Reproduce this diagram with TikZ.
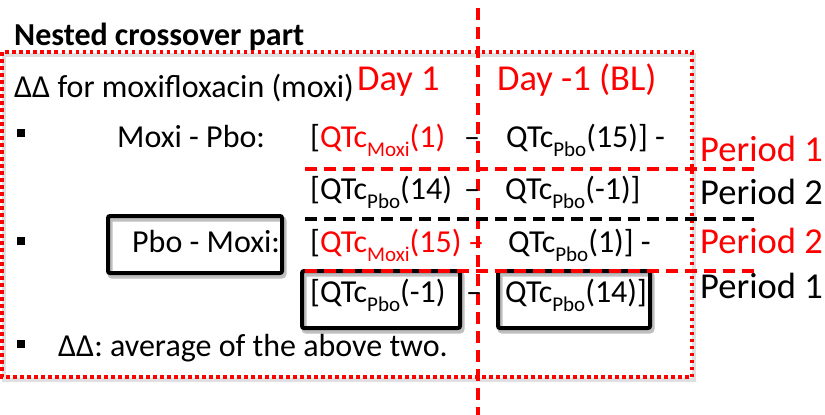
\documentclass[tikz,border=0pt]{standalone}
\usepackage{fontspec}
\setmainfont{Carlito}

% lowered index for the QTc terms
\newcommand\qsub[1]{\raisebox{-0.3em}{\fontsize{21}{21}\selectfont #1}}

\begin{document}
\begin{tikzpicture}[x=1pt,y=-1pt,
  txt/.style={font=\fontsize{32}{36}\selectfont,inner sep=0,anchor=base west},
  big txt/.style={font=\fontsize{36.5}{40}\selectfont,inner sep=0,anchor=base west},
  bullet/.style={fill=black,inner sep=0,minimum size=8pt},
  frame line/.style={draw=red,line width=3.2pt,dash pattern=on 3.5pt off 3.5pt,
        preaction={draw=black,opacity=.12,line width=4pt,solid,transform canvas={shift={(1.5,3)}}}},
  cut line/.style={line width=3.5pt,dash pattern=on 12pt off 7pt},
  hbox/.style={draw,line width=4pt,rounded corners=2pt,inner sep=0,
        preaction={draw=black,opacity=.25,line width=5pt,transform canvas={shift={(2,3)}}}}]
  \useasboundingbox (0,0) rectangle (825,415);

  \node[txt,font=\fontsize{32}{36}\selectfont\bfseries] (title) at (14,45) {Nested crossover part};

  % dotted frame and the day split
  \draw[frame line] (2,52) rectangle (692,377);
  \coordinate (vtop) at (478,8);
  \coordinate (vbot) at (478,415);
  \draw[cut line,red] (vtop) -- (vbot);

  \node[txt] (delta) at (14,97) {ΔΔ for moxifloxacin (moxi)};
  \node[big txt,red] (day1) at (357,90) {Day 1};
  \node[big txt,red] (day0) at (497,90) {Day -1 (BL)};

  % Moxi - Pbo
  \node[bullet] (b1) at (21,133) {};
  \node[txt] (mp) at (117,147) {Moxi - Pbo:};
  \node[txt] (r1l) at (310,147) {[\textcolor{red}{QTc\qsub{Moxi}(1)}};
  \node[txt,anchor=base] (r1m) at (472,147) {--};
  \node[txt] (r1r) at (506,147) {QTc\qsub{Pbo}(15)] -};
  \node[txt] (r2l) at (310,199) {[QTc\qsub{Pbo}(14)};
  \node[txt,anchor=base] (r2m) at (472,199) {--};
  \node[txt] (r2r) at (505,199) {QTc\qsub{Pbo}(-1)]};

  % Pbo - Moxi
  \node[bullet] (b2) at (21,241) {};
  \node[hbox,minimum width=174pt,minimum height=57pt] (pmbox) at (195,244.5) {};
  \node[txt] (pm) at (132,252) {Pbo - Moxi:};
  \node[txt] (r3l) at (310,252) {[\textcolor{red}{QTc\qsub{Moxi}(15)}};
  \node[txt,anchor=base,red] (r3m) at (476,252) {--};
  \node[txt] (r3r) at (508,252) {QTc\qsub{Pbo}(1)] -};
  \node[hbox,minimum width=158pt,minimum height=57pt] (box4l) at (381,299.5) {};
  \node[hbox,minimum width=152pt,minimum height=57pt] (box4r) at (574,299.5) {};
  \node[txt] (r4l) at (310,302) {[QTc\qsub{Pbo}(-1)};
  \node[txt,anchor=base] (r4m) at (474,302) {--};
  \node[txt] (r4r) at (505,302) {QTc\qsub{Pbo}(14)]};

  \node[bullet] (b3) at (21,344) {};
  \node[txt] (avg) at (58,356) {ΔΔ: average of the above two.};

  % period rows
  \node[big txt,red] (p1a) at (700,161) {Period 1};
  \node[big txt] (p2a) at (700,204) {Period 2};
  \node[big txt,red] (p2b) at (700,253) {Period 2};
  \node[big txt] (p1b) at (700,298) {Period 1};

  \coordinate (h1a) at (305,169);  \coordinate (h1b) at (757,169);
  \coordinate (h2a) at (305,219);  \coordinate (h2b) at (758,219);
  \coordinate (h3a) at (305,271);  \coordinate (h3b) at (758,271);
  \draw[cut line,red] (h1a) -- (h1b);
  \draw[cut line,black] (h2a) -- (h2b);
  \draw[cut line,red] (h3a) -- (h3b);
\end{tikzpicture}
\end{document}
